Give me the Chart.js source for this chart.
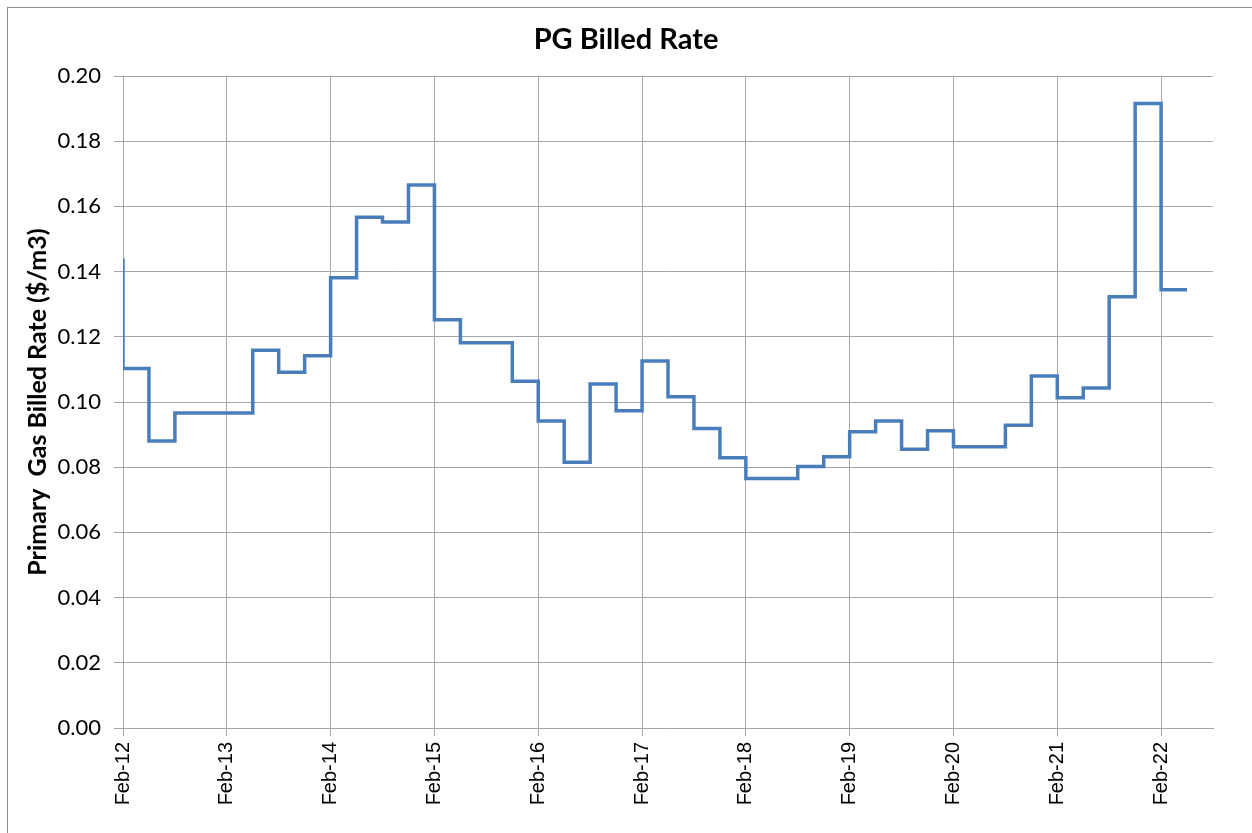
<!DOCTYPE html>
<html>
<head>
<meta charset="utf-8">
<script src="https://cdn.jsdelivr.net/npm/chart.js@4.4.0/dist/chart.umd.min.js"></script>
<style>
  html, body { margin: 0; padding: 0; background: #fff; }
  #wrap { position: relative; width: 1252px; height: 833px; overflow: hidden; }
  #frame { position: absolute; left: 7px; top: 7px; width: 1300px; height: 900px; border: 1px solid #8c8c8c; box-sizing: border-box; pointer-events: none; }
  canvas { position: absolute; left: 0; top: 0; }
</style>
</head>
<body>
<div id="wrap">
  <canvas id="c" width="1252" height="833"></canvas>
  <div id="frame"></div>
</div>
<script>
// Rate change dates (month-year) and billed rate ($/m3) in effect from that date
const periods = ['Feb-12','Feb-12','May-12','Aug-12','May-13','Aug-13','Nov-13',
  'Feb-14','May-14','Aug-14','Nov-14','Feb-15','May-15','Nov-15',
  'Feb-16','May-16','Aug-16','Nov-16','Feb-17','May-17','Aug-17','Nov-17',
  'Feb-18','Aug-18','Nov-18','Feb-19','May-19','Aug-19','Nov-19',
  'Feb-20','Aug-20','Nov-20','Feb-21','May-21','Aug-21','Nov-21','Feb-22','May-22'];
const rates = [0.1440,0.1103,0.0880,0.0966,0.1159,0.1091,0.1142,
  0.1381,0.1567,0.1552,0.1666,0.1252,0.1182,0.1064,
  0.0942,0.0815,0.1055,0.0973,0.1126,0.1016,0.0919,0.0829,
  0.0765,0.0802,0.0832,0.0909,0.0942,0.0855,0.0912,
  0.0863,0.0929,0.1080,0.1013,0.1043,0.1323,0.1916,0.1344,0.1344];
const tickLabels = ['Feb-12','Feb-13','Feb-14','Feb-15','Feb-16','Feb-17','Feb-18','Feb-19','Feb-20','Feb-21','Feb-22'];
const yTicks = [0.00,0.02,0.04,0.06,0.08,0.10,0.12,0.14,0.16,0.18,0.20];

const MONTHS = ['Jan','Feb','Mar','Apr','May','Jun','Jul','Aug','Sep','Oct','Nov','Dec'];
function monthIndex(lbl) {
  const [m, y] = lbl.split('-');
  return (parseInt(y, 10) - 12) * 12 + MONTHS.indexOf(m) - 1; // months since Feb-12
}
const points = periods.map((p, i) => ({ x: monthIndex(p), y: rates[i] }));

const gridColor = '#a6a6a6';
new Chart(document.getElementById('c'), {
  type: 'line',
  data: {
    datasets: [{
      data: points,
      borderColor: '#4a7ebb',
      borderWidth: 3.5,
      pointRadius: 0,
      stepped: 'before',
      fill: false,
      tension: 0
    }]
  },
  options: {
    responsive: false,
    animation: false,
    devicePixelRatio: 1,
    layout: { padding: { left: 0, right: 0, top: 0, bottom: 0 } },
    plugins: {
      legend: { display: false },
      tooltip: { enabled: false },
      title: {
        display: true,
        text: 'PG Billed Rate',
        color: '#000',
        font: { family: 'Lato', size: 29, weight: 'bold', lineHeight: 1.2 },
        padding: { top: 22.6, bottom: 18.6 }
      }
    },
    scales: {
      x: {
        type: 'linear',
        min: 0,
        max: 126,
        afterBuildTicks: (s) => { s.ticks = tickLabels.map((_, i) => ({ value: i * 12 })); },
        afterFit: (s) => { s.height = 105; },
        ticks: {
          autoSkip: false,
          maxRotation: 90,
          minRotation: 90,
          padding: 6,
          color: '#000',
          font: { family: 'Liberation Sans', size: 20 },
          callback: (v) => tickLabels[Math.round(v / 12)]
        },
        grid: { color: gridColor, lineWidth: 1, tickLength: 8, drawTicks: true },
        border: { color: gridColor, width: 1 }
      },
      y: {
        min: 0,
        max: 0.2,
        afterBuildTicks: (s) => { s.ticks = yTicks.map(v => ({ value: v })); },
        afterFit: (s) => { s.width = 123; },
        ticks: {
          padding: 13,
          color: '#000',
          font: { family: 'Lato', size: 22 },
          callback: (v) => Number(v).toFixed(2)
        },
        grid: { color: gridColor, lineWidth: 1, tickLength: 9 },
        border: { color: gridColor, width: 1 },
        title: {
          display: true,
          text: 'Primary  Gas Billed Rate ($/m3)',
          color: '#000',
          font: { family: 'Lato', size: 25, weight: 'bold', lineHeight: 1.2 },
          padding: { top: 23, bottom: 0 }
        }
      },
      yRight: {
        position: 'right',
        min: 0,
        max: 0.2,
        afterFit: (s) => { s.width = 39; },
        ticks: { display: false },
        grid: { display: false, drawTicks: false },
        border: { display: false }
      }
    }
  }
});
</script>
</body>
</html>
